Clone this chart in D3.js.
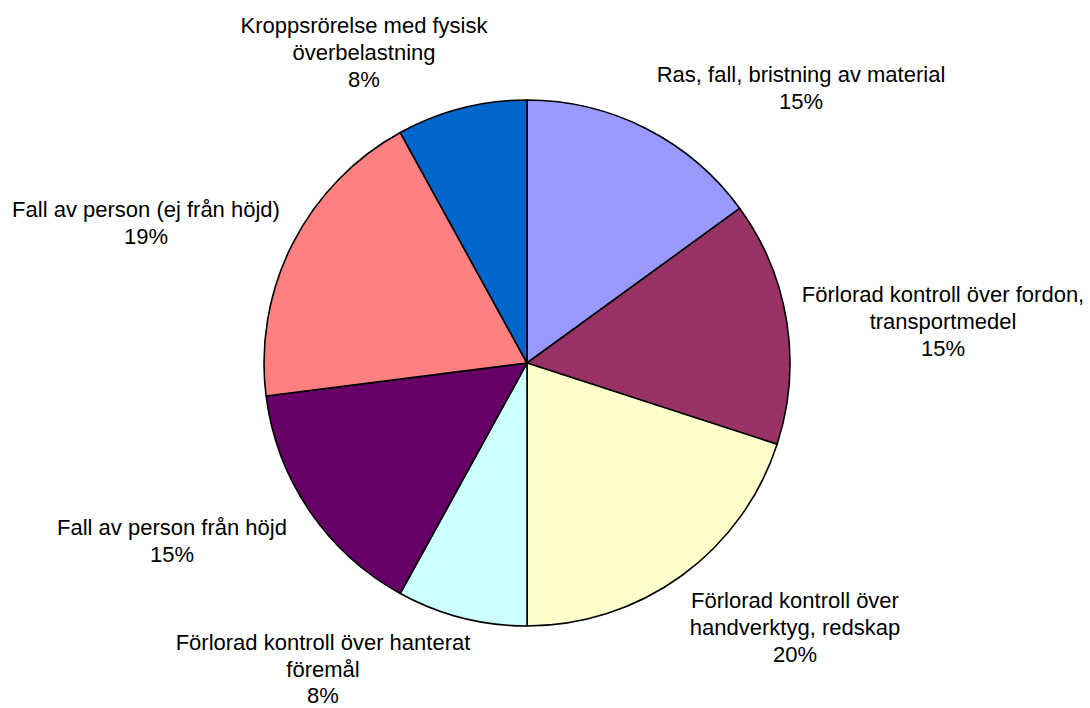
<!DOCTYPE html>
<html>
<head>
<meta charset="utf-8">
<script src="https://cdn.jsdelivr.net/npm/d3@7"></script>
<style>
  html, body { margin: 0; padding: 0; background: #fff; }
  svg { display: block; }
  text { font-family: "Liberation Sans", Arial, sans-serif; font-size: 22px; fill: #000; }
</style>
</head>
<body>
<svg id="chart" width="1090" height="708"></svg>
<script>
// Slices, clockwise from twelve o'clock
const categories = [
  "Ras, fall, bristning av material",
  "Förlorad kontroll över fordon, transportmedel",
  "Förlorad kontroll över handverktyg, redskap",
  "Förlorad kontroll över hanterat föremål",
  "Fall av person från höjd",
  "Fall av person (ej från höjd)",
  "Kroppsrörelse med fysisk överbelastning"
];
const values = [15, 15, 20, 8, 15, 19, 8];
const colors = ["#9999FF", "#993366", "#FFFFCC", "#CCFFFF", "#660066", "#FF8080", "#0066CC"];
// Label text split into lines as drawn
const labelLines = [
  ["Ras, fall, bristning av material"],
  ["Förlorad kontroll över fordon,", "transportmedel"],
  ["Förlorad kontroll över", "handverktyg, redskap"],
  ["Förlorad kontroll över hanterat", "föremål"],
  ["Fall av person från höjd"],
  ["Fall av person (ej från höjd)"],
  ["Kroppsrörelse med fysisk", "överbelastning"]
];
// Label anchor positions (centre x, baseline of the first line)
const labelPos = [
  [801, 82], [943, 302], [795, 608], [323, 650], [172, 535], [146, 217], [364, 33]
];

const svg = d3.select("#chart");
const cx = 527, cy = 363, r = 263;

const pie = d3.pie().sort(null).value(d => d)(values);
const arc = d3.arc().innerRadius(0).outerRadius(r);

const g = svg.append("g").attr("transform", `translate(${cx},${cy})`);
g.selectAll("path")
  .data(pie)
  .join("path")
  .attr("d", arc)
  .attr("fill", (d, i) => colors[i])
  .attr("stroke", "#000")
  .attr("stroke-width", 1.6)
  .attr("stroke-linejoin", "round");

const lineH = 27;
const labels = svg.append("g");
pie.forEach((d, i) => {
  const lines = labelLines[i].concat([d3.format(".0f")(values[i]) + "%"]);
  const t = labels.append("text")
    .attr("text-anchor", "middle")
    .attr("x", labelPos[i][0])
    .attr("y", labelPos[i][1]);
  lines.forEach((s, k) => {
    t.append("tspan")
      .attr("x", labelPos[i][0])
      .attr("dy", k === 0 ? 0 : (i === 3 ? 26.5 : lineH))
      .text(s);
  });
});
</script>
</body>
</html>
